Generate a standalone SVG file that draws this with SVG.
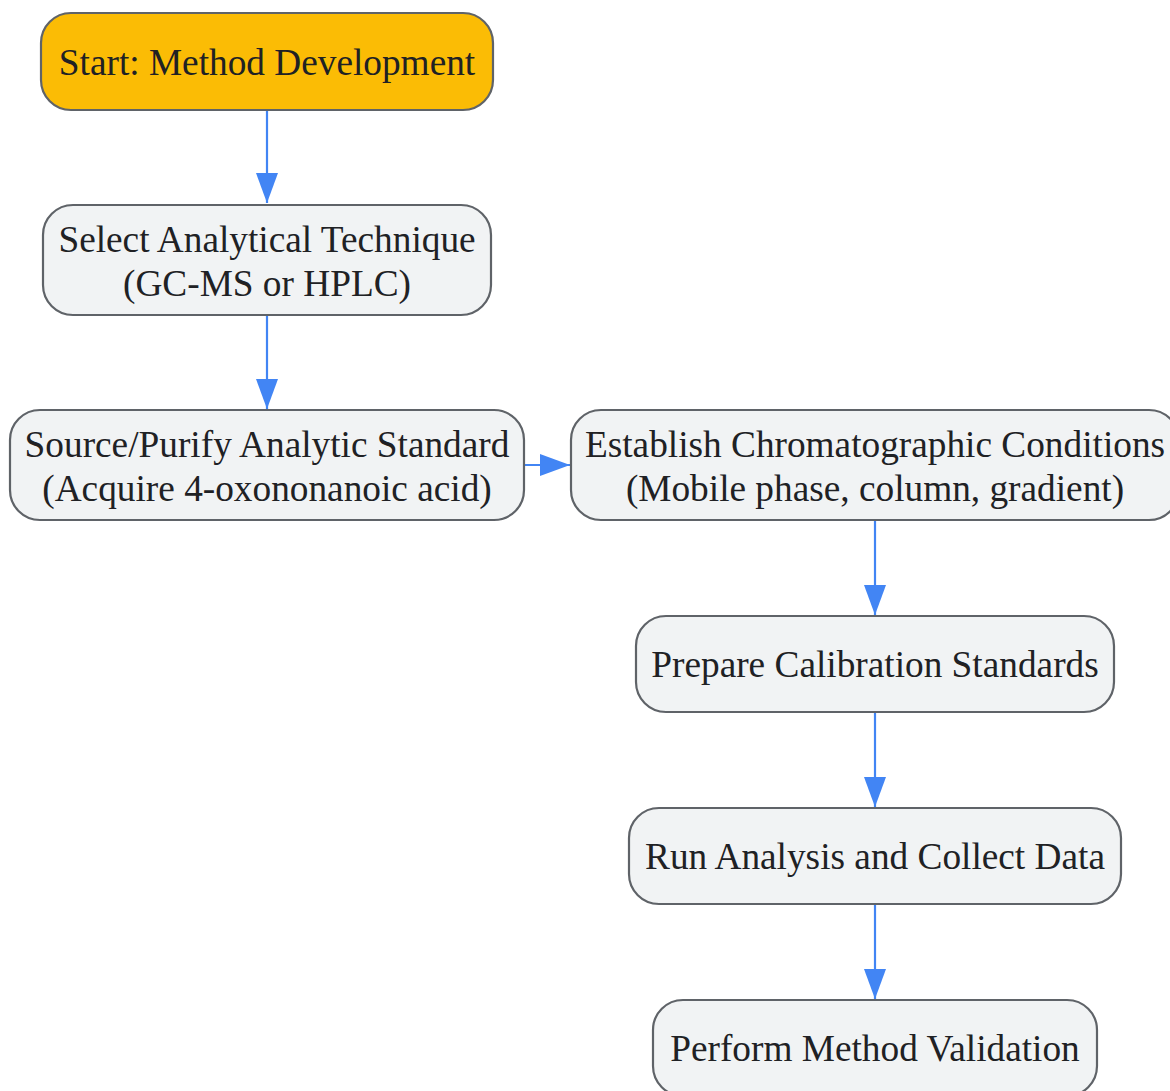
<svg xmlns="http://www.w3.org/2000/svg" width="1170" height="1091" viewBox="0 0 1170 1091">
<style>
.n rect{fill:#F1F3F4;stroke:#5F6368;stroke-width:2.2}
.n.start rect{fill:#FBBC05}
.n text{font-family:"Liberation Serif","Times New Roman",serif;font-size:37.3px;fill:#202124;text-anchor:middle}
.e{stroke:#4285F4;stroke-width:2.2;fill:none}
</style>
<defs>
<marker id="ah" viewBox="0 0 30 22" refX="30" refY="11" markerWidth="30" markerHeight="22" markerUnits="userSpaceOnUse" orient="auto">
<path d="M0,0 L30,11 L0,22 Z" fill="#4285F4"/>
</marker>
</defs>
<rect width="1170" height="1091" fill="#FFFFFF"/>
<g id="connectors">
<path class="e" d="M267,110 V203" marker-end="url(#ah)"/>
<path class="e" d="M267,315 V409" marker-end="url(#ah)"/>
<path class="e" d="M524,465 H570" marker-end="url(#ah)"/>
<path class="e" d="M875,520 V615" marker-end="url(#ah)"/>
<path class="e" d="M875,712 V807" marker-end="url(#ah)"/>
<path class="e" d="M875,904 V999" marker-end="url(#ah)"/>
</g>
<g id="n1" class="n start">
<rect x="41" y="13" width="452" height="97" rx="30"/>
<text x="267" y="74.5">Start: Method Development</text>
</g>
<g id="n2" class="n">
<rect x="43" y="205" width="448" height="110" rx="30"/>
<text x="267" y="252">Select Analytical Technique</text>
<text x="267" y="296">(GC-MS or HPLC)</text>
</g>
<g id="n3" class="n">
<rect x="10" y="410" width="514" height="110" rx="30"/>
<text x="267" y="457">Source/Purify Analytic Standard</text>
<text x="267" y="501">(Acquire 4-oxononanoic acid)</text>
</g>
<g id="n4" class="n">
<rect x="571" y="410" width="608" height="110" rx="30"/>
<text x="875" y="457">Establish Chromatographic Conditions</text>
<text x="875" y="501">(Mobile phase, column, gradient)</text>
</g>
<g id="n5" class="n">
<rect x="636" y="616" width="478" height="96" rx="30"/>
<text x="875" y="677">Prepare Calibration Standards</text>
</g>
<g id="n6" class="n">
<rect x="629" y="808" width="492" height="96" rx="30"/>
<text x="875" y="869">Run Analysis and Collect Data</text>
</g>
<g id="n7" class="n">
<rect x="653" y="1000" width="444" height="96" rx="30"/>
<text x="875" y="1061">Perform Method Validation</text>
</g>
</svg>
